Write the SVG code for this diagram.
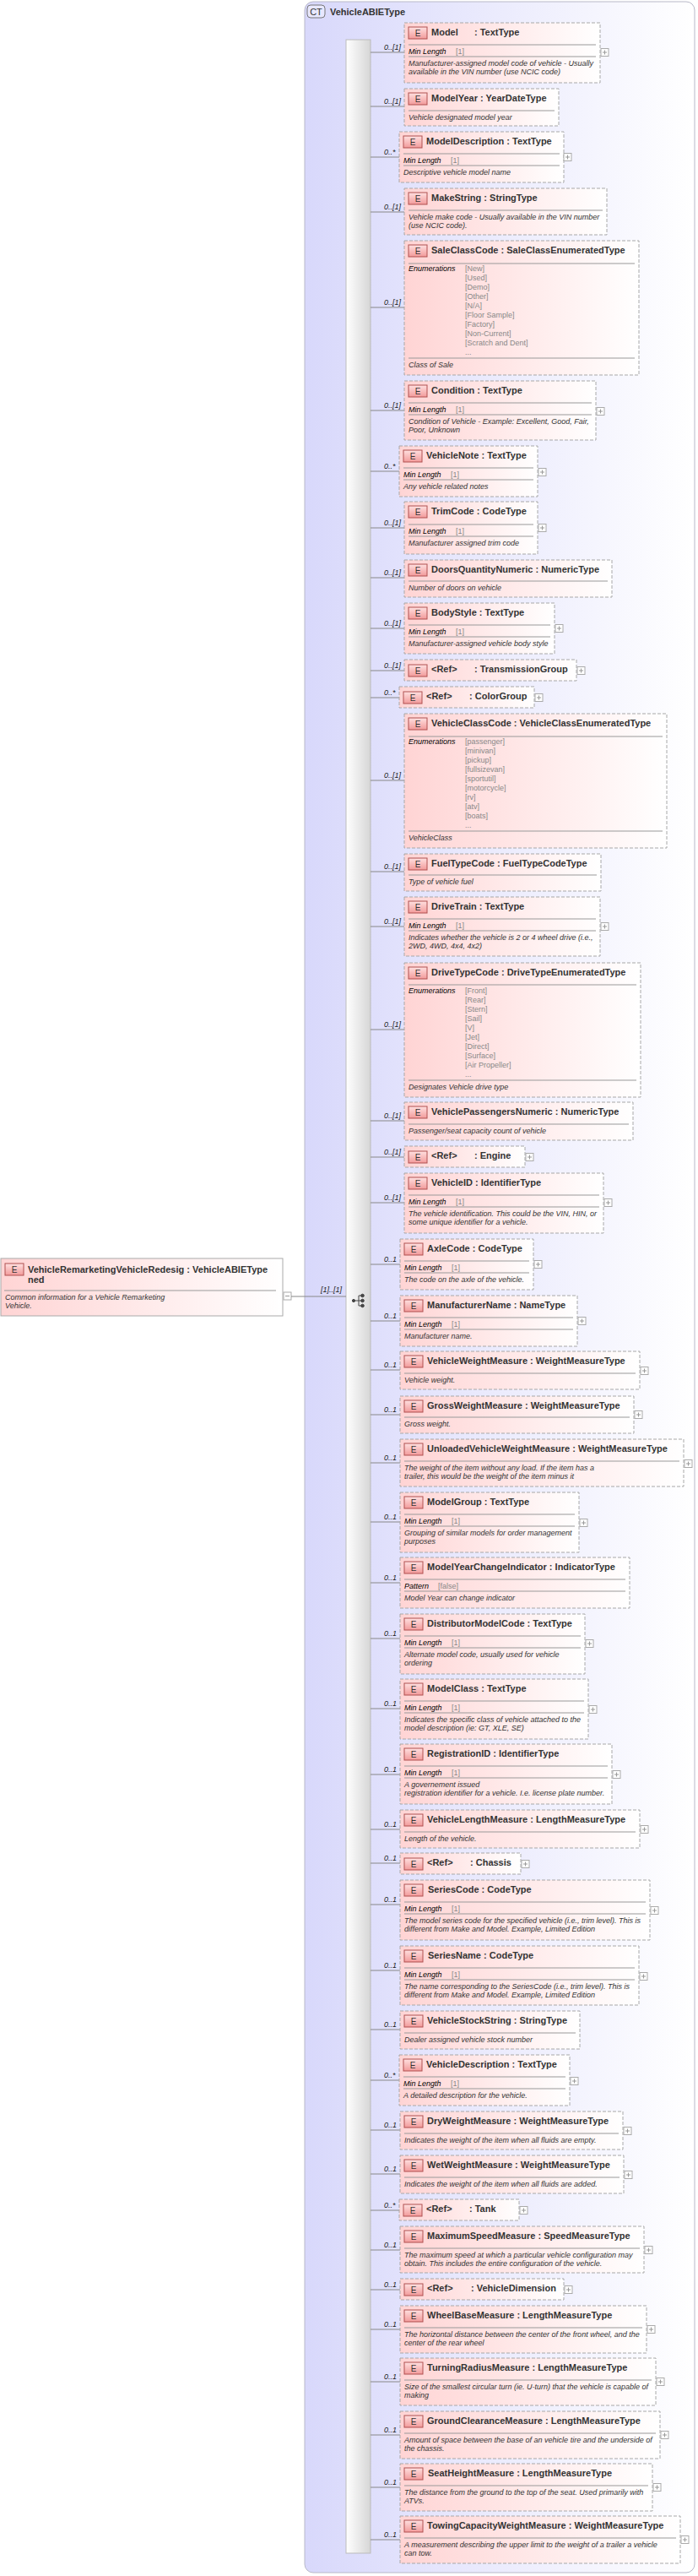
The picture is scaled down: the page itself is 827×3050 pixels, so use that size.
<svg xmlns="http://www.w3.org/2000/svg" xmlns:xlink="http://www.w3.org/1999/xlink" width="827" height="3050" viewBox="0 0 827 3050">
<defs>
<linearGradient id="g" x1="0" y1="0" x2="1" y2="0"><stop offset="0" stop-color="#ffd4d4"/><stop offset="1" stop-color="#ffffff"/></linearGradient>
<linearGradient id="ct" x1="0" y1="0" x2="1" y2="0"><stop offset="0" stop-color="#d8d8fb"/><stop offset="1" stop-color="#ffffff"/></linearGradient>
<linearGradient id="bar" x1="0" y1="0" x2="1" y2="0"><stop offset="0" stop-color="#ffffff"/><stop offset="1" stop-color="#d6d6d6"/></linearGradient>
<linearGradient id="eb" x1="0" y1="0" x2="0" y2="1"><stop offset="0" stop-color="#ffe0e0"/><stop offset="1" stop-color="#f29a9a"/></linearGradient>
<g id="E"><rect x="0" y="0" width="22" height="14" fill="url(#eb)" stroke="#b05050" stroke-width="1"/><text x="11" y="11" font-family="Liberation Sans, sans-serif" font-size="10" text-anchor="middle" fill="#333">E</text></g>
<g id="P"><rect x="0" y="-4.5" width="9" height="9" fill="#fff" stroke="#aaa"/><path d="M2 0H7M4.5 -2.5V2.5" stroke="#999"/></g>
</defs>
<style>
.n{fill:url(#g);stroke:#a8a8a8;stroke-dasharray:4,2}
.t{font-family:"Liberation Sans",sans-serif;font-size:11px;font-weight:bold;fill:#333}
.d{font-family:"Liberation Sans",sans-serif;font-size:9px;font-style:italic;fill:#333}
.k{font-family:"Liberation Sans",sans-serif;font-size:9px;font-style:italic;fill:#000}
.v{font-family:"Liberation Sans",sans-serif;font-size:9px;fill:#888}
.m{font-family:"Liberation Sans",sans-serif;font-size:9px;font-style:italic;fill:#222}
.s{stroke:#999;stroke-width:1}
.c{stroke:#888;stroke-width:1;fill:none}
</style>
<rect x="361" y="2" width="462" height="3044" rx="10" fill="url(#ct)" stroke="#b8b8c8"/>
<rect x="364" y="6" width="21" height="15" rx="4" fill="#e8e8ff" stroke="#777"/>
<text x="374.5" y="17.5" font-family="Liberation Sans, sans-serif" font-size="11" text-anchor="middle" fill="#333">CT</text>
<text x="391" y="18" class="t">VehicleABIEType</text>
<rect x="410" y="47" width="29" height="2976" fill="url(#bar)" stroke="#bbb"/>
<g id="seqicon" fill="#444" stroke="#444"><circle cx="419" cy="1540" r="1.6"/><path d="M420 1540H425M425 1534V1546M425 1534H429M425 1540H429M425 1546H429" fill="none"/><circle cx="429.5" cy="1534" r="1.8"/><circle cx="429.5" cy="1540" r="1.8"/><circle cx="429.5" cy="1546" r="1.8"/></g>
<g id="root">
<rect x="1" y="1490" width="334" height="68" fill="url(#g)" stroke="#aaa"/>
<use href="#E" x="6" y="1496"/>
<text x="33" y="1507" class="t">VehicleRemarketingVehicleRedesig  : VehicleABIEType</text>
<text x="33" y="1519" class="t">ned</text>
<line class="s" x1="5" x2="327" y1="1528" y2="1528"/>
<text x="6" y="1539" class="d">Common information for a Vehicle Remarketing</text>
<text x="6" y="1549" class="d">Vehicle.</text>
<rect x="336" y="1530" width="9" height="9" fill="#fff" stroke="#aaa"/><path d="M338 1534.5H343" stroke="#999"/>
</g>
<g id="connectors">
<line class="c" x1="345" y1="1535" x2="410" y2="1535"/>
<text x="380" y="1530" class="m">[1]..[1]</text>
<path class="c" d="M439 62H479M439 126H479M439 186H473M439 251H479M439 364H479M439 486H479M439 558H473M439 625H479M439 684H479M439 744H479M439 794H479M439 826H473M439 924H479M439 1032H479M439 1097H479M439 1219H479M439 1327H479M439 1370H479M439 1424H479M439 1497H474M439 1564H474M439 1622H474M439 1675H474M439 1732H474M439 1802H474M439 1874H474M439 1940H474M439 2023H474M439 2101H474M439 2166H474M439 2206H474M439 2255H474M439 2333H474M439 2403H474M439 2463H473M439 2522H474M439 2574H474M439 2617H473M439 2664H474M439 2711H474M439 2758H474M439 2820H474M439 2883H474M439 2945H474M439 3007H474"/>
<g class="m">
<text x="455" y="59">0..[1]</text><text x="455" y="123">0..[1]</text><text x="455" y="183">0..*</text><text x="455" y="248">0..[1]</text><text x="455" y="361">0..[1]</text><text x="455" y="483">0..[1]</text><text x="455" y="555">0..*</text><text x="455" y="622">0..[1]</text><text x="455" y="681">0..[1]</text><text x="455" y="741">0..[1]</text><text x="455" y="791">0..[1]</text><text x="455" y="823">0..*</text><text x="455" y="921">0..[1]</text><text x="455" y="1029">0..[1]</text><text x="455" y="1094">0..[1]</text><text x="455" y="1216">0..[1]</text><text x="455" y="1324">0..[1]</text><text x="455" y="1367">0..[1]</text><text x="455" y="1421">0..[1]</text>
<text x="455" y="1494">0..1</text><text x="455" y="1561">0..1</text><text x="455" y="1619">0..1</text><text x="455" y="1672">0..1</text><text x="455" y="1729">0..1</text><text x="455" y="1799">0..1</text><text x="455" y="1871">0..1</text><text x="455" y="1937">0..1</text><text x="455" y="2020">0..1</text><text x="455" y="2098">0..1</text><text x="455" y="2163">0..1</text><text x="455" y="2203">0..1</text><text x="455" y="2252">0..1</text><text x="455" y="2330">0..1</text><text x="455" y="2400">0..1</text><text x="455" y="2460">0..*</text><text x="455" y="2519">0..1</text><text x="455" y="2571">0..1</text><text x="455" y="2614">0..*</text><text x="455" y="2661">0..1</text><text x="455" y="2708">0..1</text><text x="455" y="2755">0..1</text><text x="455" y="2817">0..1</text><text x="455" y="2880">0..1</text><text x="455" y="2942">0..1</text><text x="455" y="3004">0..1</text>
</g>
</g>

<g id="Model"><rect class="n" x="479" y="27" width="232" height="71"/><use href="#E" x="484" y="32"/><text class="t" x="511" y="42">Model</text><text class="t" x="562" y="42">: TextType</text><line class="s" x1="484" x2="706" y1="53" y2="53"/><text class="k" x="484" y="64">Min Length</text><text class="v" x="540" y="64">[1]</text><line class="s" x1="484" x2="706" y1="67" y2="67"/><text class="d" x="484" y="78">Manufacturer-assigned model code of vehicle - Usually</text><text class="d" x="484" y="88">available in the VIN number (use NCIC code)</text><use href="#P" x="712" y="62"/></g>

<g id="ModelYear"><rect class="n" x="479" y="105" width="183" height="44"/><use href="#E" x="484" y="110"/><text class="t" x="511" y="120">ModelYear  : YearDateType</text><line class="s" x1="484" x2="657" y1="131" y2="131"/><text class="d" x="484" y="142">Vehicle designated model year</text></g>

<g id="ModelDescription"><rect class="n" x="473" y="156" width="195" height="60"/><use href="#E" x="478" y="161"/><text class="t" x="505" y="171">ModelDescription  : TextType</text><line class="s" x1="478" x2="663" y1="182" y2="182"/><text class="k" x="478" y="193">Min Length</text><text class="v" x="534" y="193">[1]</text><line class="s" x1="478" x2="663" y1="196" y2="196"/><text class="d" x="478" y="207">Descriptive vehicle model name</text><use href="#P" x="668" y="186"/></g>

<g id="MakeString"><rect class="n" x="479" y="223" width="240" height="55"/><use href="#E" x="484" y="228"/><text class="t" x="511" y="238">MakeString  : StringType</text><line class="s" x1="484" x2="714" y1="249" y2="249"/><text class="d" x="484" y="260">Vehicle make code - Usually available in the VIN number</text><text class="d" x="484" y="270">(use NCIC code).</text></g>

<g id="SaleClassCode"><rect class="n" x="479" y="285" width="278" height="159"/><use href="#E" x="484" y="290"/><text class="t" x="511" y="300">SaleClassCode  : SaleClassEnumeratedType</text><line class="s" x1="484" x2="752" y1="312" y2="312"/><text class="k" x="484" y="321">Enumerations</text><g class="v"><text x="551" y="321">[New]</text><text x="551" y="332">[Used]</text><text x="551" y="343">[Demo]</text><text x="551" y="354">[Other]</text><text x="551" y="365">[N/A]</text><text x="551" y="376">[Floor Sample]</text><text x="551" y="387">[Factory]</text><text x="551" y="398">[Non-Current]</text><text x="551" y="409">[Scratch and Dent]</text><text x="551" y="420">...</text></g><line class="s" x1="484" x2="752" y1="424" y2="424"/><text class="d" x="484" y="435">Class of Sale</text></g>

<g id="Condition"><rect class="n" x="479" y="451" width="227" height="70"/><use href="#E" x="484" y="456"/><text class="t" x="511" y="466">Condition  : TextType</text><line class="s" x1="484" x2="701" y1="477" y2="477"/><text class="k" x="484" y="488">Min Length</text><text class="v" x="540" y="488">[1]</text><line class="s" x1="484" x2="701" y1="491" y2="491"/><text class="d" x="484" y="502">Condition of Vehicle - Example: Excellent, Good, Fair,</text><text class="d" x="484" y="512">Poor, Unknown</text><use href="#P" x="707" y="487"/></g>

<g id="VehicleNote"><rect class="n" x="473" y="528" width="164" height="60"/><use href="#E" x="478" y="533"/><text class="t" x="505" y="543">VehicleNote  : TextType</text><line class="s" x1="478" x2="632" y1="554" y2="554"/><text class="k" x="478" y="565">Min Length</text><text class="v" x="534" y="565">[1]</text><line class="s" x1="478" x2="632" y1="568" y2="568"/><text class="d" x="478" y="579">Any vehicle related notes</text><use href="#P" x="638" y="559"/></g>

<g id="TrimCode"><rect class="n" x="479" y="594" width="158" height="62"/><use href="#E" x="484" y="599"/><text class="t" x="511" y="609">TrimCode  : CodeType</text><line class="s" x1="484" x2="632" y1="621" y2="621"/><text class="k" x="484" y="632">Min Length</text><text class="v" x="540" y="632">[1]</text><line class="s" x1="484" x2="632" y1="635" y2="635"/><text class="d" x="484" y="646">Manufacturer assigned trim code</text><use href="#P" x="638" y="625"/></g>

<g id="DoorsQuantityNumeric"><rect class="n" x="479" y="663" width="246" height="44"/><use href="#E" x="484" y="668"/><text class="t" x="511" y="678">DoorsQuantityNumeric  : NumericType</text><line class="s" x1="484" x2="720" y1="688" y2="688"/><text class="d" x="484" y="699">Number of doors on vehicle</text></g>

<g id="BodyStyle"><rect class="n" x="479" y="714" width="178" height="60"/><use href="#E" x="484" y="719"/><text class="t" x="511" y="729">BodyStyle  : TextType</text><line class="s" x1="484" x2="652" y1="740" y2="740"/><text class="k" x="484" y="751">Min Length</text><text class="v" x="540" y="751">[1]</text><line class="s" x1="484" x2="652" y1="754" y2="754"/><text class="d" x="484" y="765">Manufacturer-assigned vehicle body style</text><use href="#P" x="658" y="744"/></g>

<g id="TransmissionGroup"><rect class="n" x="479" y="781" width="204" height="25"/><use href="#E" x="484" y="787"/><text class="t" x="511" y="796">&lt;Ref&gt;</text><text class="t" x="562" y="796">: TransmissionGroup</text><use href="#P" x="684" y="794"/></g>

<g id="ColorGroup"><rect class="n" x="473" y="813" width="160" height="25"/><use href="#E" x="478" y="819"/><text class="t" x="505" y="828">&lt;Ref&gt;</text><text class="t" x="556" y="828">: ColorGroup</text><use href="#P" x="634" y="826"/></g>

<g id="VehicleClassCode"><rect class="n" x="479" y="845" width="311" height="159"/><use href="#E" x="484" y="850"/><text class="t" x="511" y="860">VehicleClassCode  : VehicleClassEnumeratedType</text><line class="s" x1="484" x2="785" y1="872" y2="872"/><text class="k" x="484" y="881">Enumerations</text><g class="v"><text x="551" y="881">[passenger]</text><text x="551" y="892">[minivan]</text><text x="551" y="903">[pickup]</text><text x="551" y="914">[fullsizevan]</text><text x="551" y="925">[sportutil]</text><text x="551" y="936">[motorcycle]</text><text x="551" y="947">[rv]</text><text x="551" y="958">[atv]</text><text x="551" y="969">[boats]</text><text x="551" y="980">...</text></g><line class="s" x1="484" x2="785" y1="984" y2="984"/><text class="d" x="484" y="995">VehicleClass</text></g>

<g id="FuelTypeCode"><rect class="n" x="479" y="1011" width="233" height="44"/><use href="#E" x="484" y="1016"/><text class="t" x="511" y="1026">FuelTypeCode  : FuelTypeCodeType</text><line class="s" x1="484" x2="707" y1="1036" y2="1036"/><text class="d" x="484" y="1047">Type of vehicle fuel</text></g>

<g id="DriveTrain"><rect class="n" x="479" y="1062" width="232" height="70"/><use href="#E" x="484" y="1067"/><text class="t" x="511" y="1077">DriveTrain  : TextType</text><line class="s" x1="484" x2="706" y1="1088" y2="1088"/><text class="k" x="484" y="1099">Min Length</text><text class="v" x="540" y="1099">[1]</text><line class="s" x1="484" x2="706" y1="1102" y2="1102"/><text class="d" x="484" y="1113">Indicates whether the vehicle is 2 or 4 wheel drive (i.e.,</text><text class="d" x="484" y="1123">2WD, 4WD, 4x4, 4x2)</text><use href="#P" x="712" y="1097"/></g>

<g id="DriveTypeCode"><rect class="n" x="479" y="1140" width="280" height="159"/><use href="#E" x="484" y="1145"/><text class="t" x="511" y="1155">DriveTypeCode  : DriveTypeEnumeratedType</text><line class="s" x1="484" x2="754" y1="1166" y2="1166"/><text class="k" x="484" y="1176">Enumerations</text><g class="v"><text x="551" y="1176">[Front]</text><text x="551" y="1187">[Rear]</text><text x="551" y="1198">[Stern]</text><text x="551" y="1209">[Sail]</text><text x="551" y="1220">[V]</text><text x="551" y="1231">[Jet]</text><text x="551" y="1242">[Direct]</text><text x="551" y="1253">[Surface]</text><text x="551" y="1264">[Air Propeller]</text><text x="551" y="1275">...</text></g><line class="s" x1="484" x2="754" y1="1279" y2="1279"/><text class="d" x="484" y="1290">Designates Vehicle drive type</text></g>

<g id="VehiclePassengersNumeric"><rect class="n" x="479" y="1305" width="271" height="45"/><use href="#E" x="484" y="1310"/><text class="t" x="511" y="1320">VehiclePassengersNumeric  : NumericType</text><line class="s" x1="484" x2="745" y1="1331" y2="1331"/><text class="d" x="484" y="1342">Passenger/seat capacity count of vehicle</text></g>

<g id="Engine"><rect class="n" x="479" y="1357" width="143" height="25"/><use href="#E" x="484" y="1363"/><text class="t" x="511" y="1372">&lt;Ref&gt;</text><text class="t" x="562" y="1372">: Engine</text><use href="#P" x="623" y="1370"/></g>

<g id="VehicleID"><rect class="n" x="479" y="1389" width="236" height="71"/><use href="#E" x="484" y="1394"/><text class="t" x="511" y="1404">VehicleID  : IdentifierType</text><line class="s" x1="484" x2="710" y1="1415" y2="1415"/><text class="k" x="484" y="1426">Min Length</text><text class="v" x="540" y="1426">[1]</text><line class="s" x1="484" x2="710" y1="1429" y2="1429"/><text class="d" x="484" y="1440">The vehicle identification. This could be the VIN, HIN, or</text><text class="d" x="484" y="1450">some unique identifier for a vehicle.</text><use href="#P" x="716" y="1424"/></g>

<g id="AxleCode"><rect class="n" x="474" y="1467" width="158" height="60"/><use href="#E" x="479" y="1472"/><text class="t" x="506" y="1482">AxleCode  : CodeType</text><line class="s" x1="479" x2="627" y1="1493" y2="1493"/><text class="k" x="479" y="1504">Min Length</text><text class="v" x="535" y="1504">[1]</text><line class="s" x1="479" x2="627" y1="1507" y2="1507"/><text class="d" x="479" y="1518">The code on the axle of the vehicle.</text><use href="#P" x="633" y="1497"/></g>

<g id="ManufacturerName"><rect class="n" x="474" y="1534" width="210" height="60"/><use href="#E" x="479" y="1539"/><text class="t" x="506" y="1549">ManufacturerName  : NameType</text><line class="s" x1="479" x2="679" y1="1560" y2="1560"/><text class="k" x="479" y="1571">Min Length</text><text class="v" x="535" y="1571">[1]</text><line class="s" x1="479" x2="679" y1="1574" y2="1574"/><text class="d" x="479" y="1585">Manufacturer name.</text><use href="#P" x="685" y="1564"/></g>

<g id="VehicleWeightMeasure"><rect class="n" x="474" y="1600" width="284" height="45"/><use href="#E" x="479" y="1605"/><text class="t" x="506" y="1615">VehicleWeightMeasure  : WeightMeasureType</text><line class="s" x1="479" x2="753" y1="1626" y2="1626"/><text class="d" x="479" y="1637">Vehicle weight.</text><use href="#P" x="759" y="1623"/></g>

<g id="GrossWeightMeasure"><rect class="n" x="474" y="1653" width="277" height="44"/><use href="#E" x="479" y="1658"/><text class="t" x="506" y="1668">GrossWeightMeasure  : WeightMeasureType</text><line class="s" x1="479" x2="746" y1="1678" y2="1678"/><text class="d" x="479" y="1689">Gross weight.</text><use href="#P" x="752" y="1675"/></g>

<g id="UnloadedVehicleWeightMeasure"><rect class="n" x="474" y="1704" width="336" height="56"/><use href="#E" x="479" y="1709"/><text class="t" x="506" y="1719">UnloadedVehicleWeightMeasure  : WeightMeasureType</text><line class="s" x1="479" x2="805" y1="1730" y2="1730"/><text class="d" x="479" y="1741">The weight of the item without any load. If the item has a</text><text class="d" x="479" y="1751">trailer, this would be the weight of the item minus it</text><use href="#P" x="811" y="1733"/></g>

<g id="ModelGroup"><rect class="n" x="474" y="1767" width="212" height="71"/><use href="#E" x="479" y="1772"/><text class="t" x="506" y="1782">ModelGroup  : TextType</text><line class="s" x1="479" x2="681" y1="1793" y2="1793"/><text class="k" x="479" y="1804">Min Length</text><text class="v" x="535" y="1804">[1]</text><line class="s" x1="479" x2="681" y1="1807" y2="1807"/><text class="d" x="479" y="1818">Grouping of similar models for order management</text><text class="d" x="479" y="1828">purposes</text><use href="#P" x="687" y="1803"/></g>

<g id="ModelYearChangeIndicator"><rect class="n" x="474" y="1844" width="272" height="60"/><use href="#E" x="479" y="1849"/><text class="t" x="506" y="1859">ModelYearChangeIndicator  : IndicatorType</text><line class="s" x1="479" x2="741" y1="1870" y2="1870"/><text class="k" x="479" y="1881">Pattern</text><text class="v" x="519" y="1881">[false]</text><line class="s" x1="479" x2="741" y1="1884" y2="1884"/><text class="d" x="479" y="1895">Model Year can change indicator</text></g>

<g id="DistributorModelCode"><rect class="n" x="474" y="1911" width="219" height="71"/><use href="#E" x="479" y="1916"/><text class="t" x="506" y="1926">DistributorModelCode  : TextType</text><line class="s" x1="479" x2="688" y1="1937" y2="1937"/><text class="k" x="479" y="1948">Min Length</text><text class="v" x="535" y="1948">[1]</text><line class="s" x1="479" x2="688" y1="1951" y2="1951"/><text class="d" x="479" y="1962">Alternate model code, usually used for vehicle</text><text class="d" x="479" y="1972">ordering</text><use href="#P" x="694" y="1946"/></g>

<g id="ModelClass"><rect class="n" x="474" y="1988" width="223" height="71"/><use href="#E" x="479" y="1993"/><text class="t" x="506" y="2003">ModelClass  : TextType</text><line class="s" x1="479" x2="692" y1="2014" y2="2014"/><text class="k" x="479" y="2025">Min Length</text><text class="v" x="535" y="2025">[1]</text><line class="s" x1="479" x2="692" y1="2028" y2="2028"/><text class="d" x="479" y="2039">Indicates the specific class of vehicle attached to the</text><text class="d" x="479" y="2049">model description (ie: GT, XLE, SE)</text><use href="#P" x="698" y="2024"/></g>

<g id="RegistrationID"><rect class="n" x="474" y="2065" width="251" height="71"/><use href="#E" x="479" y="2070"/><text class="t" x="506" y="2080">RegistrationID  : IdentifierType</text><line class="s" x1="479" x2="720" y1="2091" y2="2091"/><text class="k" x="479" y="2102">Min Length</text><text class="v" x="535" y="2102">[1]</text><line class="s" x1="479" x2="720" y1="2105" y2="2105"/><text class="d" x="479" y="2116">A governement issued</text><text class="d" x="479" y="2126">registration identifier for a vehicle. I.e. license plate number.</text><use href="#P" x="726" y="2101"/></g>

<g id="VehicleLengthMeasure"><rect class="n" x="474" y="2143" width="284" height="45"/><use href="#E" x="479" y="2148"/><text class="t" x="506" y="2158">VehicleLengthMeasure  : LengthMeasureType</text><line class="s" x1="479" x2="753" y1="2169" y2="2169"/><text class="d" x="479" y="2180">Length of the  vehicle.</text><use href="#P" x="759" y="2166"/></g>

<g id="Chassis"><rect class="n" x="474" y="2194" width="143" height="25"/><use href="#E" x="479" y="2200"/><text class="t" x="506" y="2209">&lt;Ref&gt;</text><text class="t" x="557" y="2209">: Chassis</text><use href="#P" x="618" y="2207"/></g>

<g id="SeriesCode"><rect class="n" x="474" y="2226" width="296" height="71"/><use href="#E" x="479" y="2231"/><text class="t" x="507" y="2241">SeriesCode  : CodeType</text><line class="s" x1="479" x2="765" y1="2252" y2="2252"/><text class="k" x="479" y="2263">Min Length</text><text class="v" x="535" y="2263">[1]</text><line class="s" x1="479" x2="765" y1="2266" y2="2266"/><text class="d" x="479" y="2277">The model series code for the specified vehicle (i.e., trim level).  This is</text><text class="d" x="479" y="2287">different from Make and Model.  Example, Limited Edition</text><use href="#P" x="771" y="2262"/></g>

<g id="SeriesName"><rect class="n" x="474" y="2304" width="283" height="70"/><use href="#E" x="479" y="2309"/><text class="t" x="507" y="2319">SeriesName  : CodeType</text><line class="s" x1="479" x2="752" y1="2330" y2="2330"/><text class="k" x="479" y="2341">Min Length</text><text class="v" x="535" y="2341">[1]</text><line class="s" x1="479" x2="752" y1="2344" y2="2344"/><text class="d" x="479" y="2355">The name corresponding to the SeriesCode (i.e., trim level).  This is</text><text class="d" x="479" y="2365">different from Make and Model.  Example, Limited Edition</text><use href="#P" x="758" y="2340"/></g>

<g id="VehicleStockString"><rect class="n" x="474" y="2381" width="213" height="45"/><use href="#E" x="479" y="2386"/><text class="t" x="506" y="2396">VehicleStockString  : StringType</text><line class="s" x1="479" x2="682" y1="2407" y2="2407"/><text class="d" x="479" y="2418">Dealer assigned vehicle stock number</text></g>

<g id="VehicleDescription"><rect class="n" x="473" y="2433" width="202" height="60"/><use href="#E" x="478" y="2438"/><text class="t" x="505" y="2448">VehicleDescription  : TextType</text><line class="s" x1="478" x2="670" y1="2459" y2="2459"/><text class="k" x="478" y="2470">Min Length</text><text class="v" x="534" y="2470">[1]</text><line class="s" x1="478" x2="670" y1="2473" y2="2473"/><text class="d" x="478" y="2484">A detailed description for the vehicle.</text><use href="#P" x="676" y="2464"/></g>

<g id="DryWeightMeasure"><rect class="n" x="474" y="2500" width="264" height="45"/><use href="#E" x="479" y="2505"/><text class="t" x="506" y="2515">DryWeightMeasure  : WeightMeasureType</text><line class="s" x1="479" x2="733" y1="2526" y2="2526"/><text class="d" x="479" y="2537">Indicates the weight of the item when all fluids are empty.</text><use href="#P" x="739" y="2523"/></g>

<g id="WetWeightMeasure"><rect class="n" x="474" y="2552" width="265" height="45"/><use href="#E" x="479" y="2557"/><text class="t" x="506" y="2567">WetWeightMeasure  : WeightMeasureType</text><line class="s" x1="479" x2="734" y1="2578" y2="2578"/><text class="d" x="479" y="2589">Indicates the weight of the item when all fluids are added.</text><use href="#P" x="740" y="2575"/></g>

<g id="Tank"><rect class="n" x="473" y="2604" width="142" height="25"/><use href="#E" x="478" y="2610"/><text class="t" x="505" y="2619">&lt;Ref&gt;</text><text class="t" x="556" y="2619">: Tank</text><use href="#P" x="616" y="2617"/></g>

<g id="MaximumSpeedMeasure"><rect class="n" x="474" y="2636" width="289" height="55"/><use href="#E" x="479" y="2641"/><text class="t" x="506" y="2651">MaximumSpeedMeasure  : SpeedMeasureType</text><line class="s" x1="479" x2="758" y1="2662" y2="2662"/><text class="d" x="479" y="2673">The maximum speed at which a particular vehicle configuration may</text><text class="d" x="479" y="2683">obtain. This includes the entire configuration of the vehicle.</text><use href="#P" x="764" y="2664"/></g>

<g id="VehicleDimension"><rect class="n" x="474" y="2698" width="194" height="25"/><use href="#E" x="479" y="2704"/><text class="t" x="506" y="2713">&lt;Ref&gt;</text><text class="t" x="558" y="2713">: VehicleDimension</text><use href="#P" x="669" y="2711"/></g>

<g id="WheelBaseMeasure"><rect class="n" x="474" y="2730" width="292" height="56"/><use href="#E" x="479" y="2735"/><text class="t" x="506" y="2745">WheelBaseMeasure  : LengthMeasureType</text><line class="s" x1="479" x2="761" y1="2756" y2="2756"/><text class="d" x="479" y="2767">The horizontal distance between the center of the front wheel, and the</text><text class="d" x="479" y="2777">center of the rear wheel</text><use href="#P" x="767" y="2758"/></g>

<g id="TurningRadiusMeasure"><rect class="n" x="474" y="2792" width="303" height="56"/><use href="#E" x="479" y="2797"/><text class="t" x="506" y="2807">TurningRadiusMeasure  : LengthMeasureType</text><line class="s" x1="479" x2="772" y1="2818" y2="2818"/><text class="d" x="479" y="2829">Size of the smallest circular turn (ie. U-turn) that the vehicle is capable of</text><text class="d" x="479" y="2839">making</text><use href="#P" x="778" y="2820"/></g>

<g id="GroundClearanceMeasure"><rect class="n" x="474" y="2855" width="308" height="56"/><use href="#E" x="479" y="2860"/><text class="t" x="506" y="2870">GroundClearanceMeasure  : LengthMeasureType</text><line class="s" x1="479" x2="777" y1="2881" y2="2881"/><text class="d" x="479" y="2892">Amount of space between the base of an vehicle tire and the underside of</text><text class="d" x="479" y="2902">the chassis.</text><use href="#P" x="783" y="2883"/></g>

<g id="SeatHeightMeasure"><rect class="n" x="474" y="2917" width="299" height="56"/><use href="#E" x="479" y="2922"/><text class="t" x="507" y="2932">SeatHeightMeasure  : LengthMeasureType</text><line class="s" x1="479" x2="768" y1="2943" y2="2943"/><text class="d" x="479" y="2954">The distance from the ground to the top of the seat.  Used primarily with</text><text class="d" x="479" y="2964">ATVs.</text><use href="#P" x="774" y="2945"/></g>

<g id="TowingCapacityWeightMeasure"><rect class="n" x="474" y="2979" width="332" height="56"/><use href="#E" x="479" y="2984"/><text class="t" x="506" y="2994">TowingCapacityWeightMeasure  : WeightMeasureType</text><line class="s" x1="479" x2="801" y1="3005" y2="3005"/><text class="d" x="479" y="3016">A measurement describing the upper limit to the weight of a trailer a vehicle</text><text class="d" x="479" y="3026">can tow.</text><use href="#P" x="807" y="3007"/></g>
</svg>
